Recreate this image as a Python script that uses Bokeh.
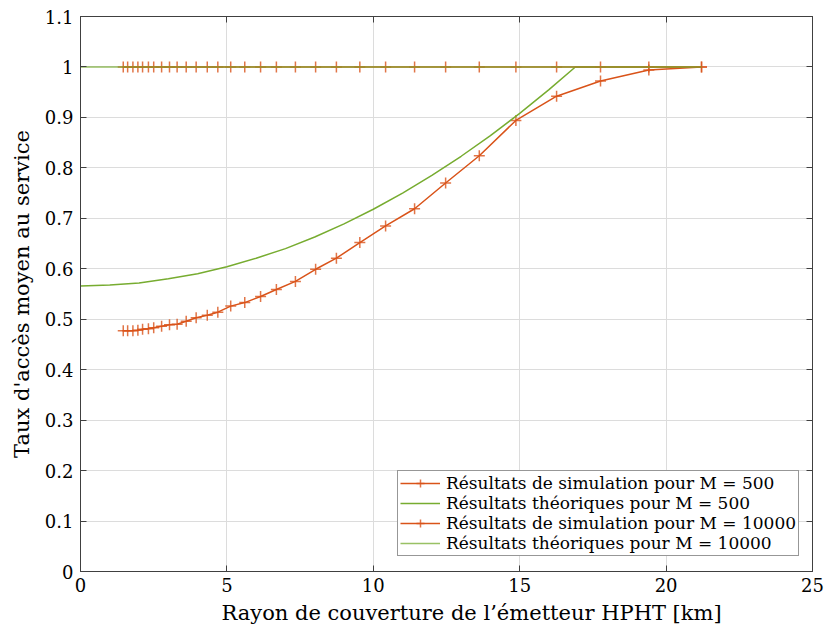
from bokeh.plotting import figure
from bokeh.models import (Legend, LegendItem, LinearAxis, FixedTicker, Range1d,
                          CustomLabelingPolicy, Title)
from bokeh.embed import file_html
from bokeh.resources import INLINE

# ---- data ----
r_sim = [1.46, 1.61, 1.79, 1.96, 2.12, 2.32, 2.50, 2.77, 3.04, 3.30, 3.61, 3.95,
         4.33, 4.69, 5.13, 5.61, 6.15, 6.69, 7.34, 8.03, 8.74, 9.54, 10.42, 11.41,
         12.47, 13.62, 14.87, 16.26, 17.76, 19.41, 21.21]
sim_500 = [0.477, 0.477, 0.477, 0.478, 0.480, 0.481, 0.483, 0.486, 0.489, 0.490,
           0.496, 0.503, 0.508, 0.514, 0.526, 0.533, 0.545, 0.559, 0.575, 0.599,
           0.621, 0.652, 0.685, 0.719, 0.770, 0.824, 0.894, 0.942, 0.972, 0.994, 1.0]
sim_10000 = [1.0, 1.0, 1.0, 1.0, 1.0, 1.0, 1.0, 1.0, 1.0, 1.0, 1.0, 1.0, 1.0, 1.0,
             1.0, 1.0, 1.0, 1.0, 1.0, 1.0, 1.0, 1.0, 1.0, 1.0, 1.0, 1.0, 1.0, 1.0,
             1.0, 1.0, 1.0]
r_th500 = [0, 1, 2, 3, 4, 5, 6, 7, 8, 9, 10, 11, 12, 13, 14, 15, 16, 16.9, 21.21]
th_500 = [0.566, 0.568, 0.572, 0.580, 0.590, 0.604, 0.621, 0.640, 0.663, 0.689,
          0.718, 0.750, 0.785, 0.823, 0.864, 0.908, 0.955, 1.0, 1.0]
r_th10000 = [0, 21.21]
th_10000 = [1.0, 1.0]

x_ticks = [0, 5, 10, 15, 20, 25]
y_ticks = [0, 0.1, 0.2, 0.3, 0.4, 0.5, 0.6, 0.7, 0.8, 0.9, 1.0, 1.1]
y_tick_labels = ["0", "0.1", "0.2", "0.3", "0.4", "0.5", "0.6", "0.7", "0.8", "0.9", "1", "1.1"]

x_label = "Rayon de couverture de l’émetteur HPHT [km]"
y_label = "Taux d'accès moyen au service"
labels = ["Résultats de simulation pour M = 500",
          "Résultats théoriques pour M = 500",
          "Résultats de simulation pour M = 10000",
          "Résultats théoriques pour M = 10000"]

ORANGE = "#D95319"
GREEN = "#77AC30"
FONT = "DejaVu Serif"
FRAME = "#404040"

p = figure(frame_width=732, frame_height=555,
           x_range=Range1d(0, 25), y_range=Range1d(0, 1.1),
           output_backend="svg", toolbar_location=None,
           min_border_left=80, min_border_right=12,
           min_border_top=16, min_border_bottom=62)

p.outline_line_color = FRAME
p.background_fill_color = "white"

# grid
p.xgrid.ticker = FixedTicker(ticks=x_ticks)
p.ygrid.ticker = FixedTicker(ticks=y_ticks)
p.xgrid.grid_line_color = "#dcdcdc"
p.ygrid.grid_line_color = "#dcdcdc"

# axes
for ax in p.xaxis:
    ax.ticker = FixedTicker(ticks=x_ticks)
for ax in p.yaxis:
    ax.ticker = FixedTicker(ticks=y_ticks)
    ax.major_label_overrides = {t: l for t, l in zip(y_ticks, y_tick_labels)}

p.yaxis.axis_label = y_label
for ax in list(p.xaxis) + list(p.yaxis):
    ax.axis_label_text_font = FONT
    ax.axis_label_text_font_style = "normal"
    ax.axis_label_text_font_size = "21px"
    ax.axis_label_text_color = "black"
    ax.major_label_text_font = FONT
    ax.major_label_text_font_size = "18px"
    ax.major_label_text_color = "black"
    ax.major_tick_in = 6
    ax.major_tick_out = 0
    ax.minor_tick_line_color = None
    ax.axis_line_color = FRAME
    ax.major_tick_line_color = FRAME
p.xaxis.major_label_standoff = 6
p.yaxis.major_label_standoff = 7
p.yaxis.axis_label_standoff = 8

# x-axis caption (slightly right of centre, as in the reference)
xcap = Title(text=x_label, align="left", offset=141, vertical_align="top",
             standoff=13, text_font=FONT, text_font_size="21px",
             text_font_style="normal", text_color="black")
p.add_layout(xcap, "below")

no_labels = CustomLabelingPolicy(code="""
const all = [...indices];
for (const i of all) { indices.unset(i); }
return indices;
""")

for loc, ticks in (("above", x_ticks), ("right", y_ticks)):
    ax = LinearAxis(ticker=FixedTicker(ticks=ticks),
                    major_label_policy=no_labels,
                    major_label_standoff=0,
                    major_tick_in=6, major_tick_out=0,
                    minor_tick_line_color=None,
                    axis_line_color=FRAME, major_tick_line_color=FRAME)
    p.add_layout(ax, loc)

# data renderers
l1 = p.line(r_sim, sim_500, line_color=ORANGE, line_width=1.5)
m1 = p.scatter(r_sim, sim_500, marker="cross", size=11, line_color=ORANGE, line_width=1.5, line_alpha=0.8)
l2 = p.line(r_th500, th_500, line_color=GREEN, line_width=1.5)
l3 = p.line(r_sim, sim_10000, line_color=ORANGE, line_width=1.5)
m3 = p.scatter(r_sim, sim_10000, marker="cross", size=11, line_color=ORANGE, line_width=1.5, line_alpha=0.8)
l4 = p.line(r_th10000, th_10000, line_color=GREEN, line_width=1.5, line_alpha=0.75)

legend = Legend(items=[LegendItem(label=labels[0], renderers=[l1, m1]),
                       LegendItem(label=labels[1], renderers=[l2]),
                       LegendItem(label=labels[2], renderers=[l3, m3]),
                       LegendItem(label=labels[3], renderers=[l4])],
                location=(317, 15))
legend.label_text_font = FONT
legend.label_text_font_size = "17px"
legend.label_text_color = "black"
legend.glyph_width = 40
legend.glyph_height = 20
legend.label_height = 20
legend.label_standoff = 6
legend.spacing = 0
legend.padding = 2
legend.margin = 0
legend.border_line_color = "#303030"
legend.border_line_width = 1
legend.background_fill_alpha = 1
p.add_layout(legend)

open("out.html", "w").write(file_html(p, INLINE))
